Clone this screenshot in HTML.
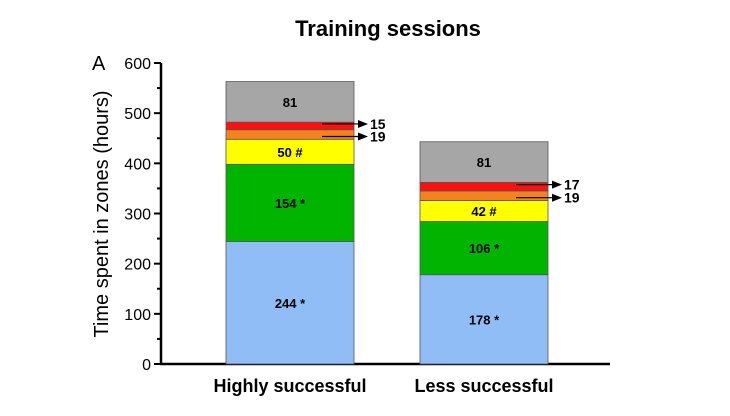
<!DOCTYPE html>
<html><head><meta charset="utf-8"><style>
body{margin:0;background:#fff;width:730px;height:411px;overflow:hidden;font-family:"Liberation Sans",sans-serif}
</style></head><body>
<svg width="730" height="411" xmlns="http://www.w3.org/2000/svg" font-family="Liberation Sans, sans-serif">
<text x="388" y="36" text-anchor="middle" font-size="22" font-weight="bold">Training sessions</text>
<text x="92" y="70" font-size="20">A</text>
<text transform="translate(108,214) rotate(-90)" text-anchor="middle" font-size="20">Time spent in zones (hours)</text>
<g id="axes"></g><g id="bars"></g>
</svg>
<script>
const categories=["Highly successful","Less successful"];
const zones=["blue","green","yellow","orange","red","gray"];
const hsValues=[244,154,50,19,15,81];
const lsValues=[178,106,42,19,17,81];
const labels=[["244 *","154 *","50 #","19","15","81"],["178 *","106 *","42 #","19","17","81"]];
const yTicks=[0,100,200,300,400,500,600];
const colors={blue:"#91bdf7",green:"#00b400",yellow:"#ffff00",orange:"#f58220",red:"#ff1010",gray:"#a6a6a6"};
const NS="http://www.w3.org/2000/svg";
const y0=364,yTop=63,yMax=600;
const y=v=>y0-(v/yMax)*(y0-yTop);
const barX=[226,420],barW=128;
function mk(tag,attrs,parent,txt){const e=document.createElementNS(NS,tag);for(const k in attrs)e.setAttribute(k,attrs[k]);if(txt!==undefined)e.textContent=txt;parent.appendChild(e);return e;}
const ax=document.getElementById('axes'),bg=document.getElementById('bars');
const yl=mk('line',{x1:161,y1:y(0),x2:161,y2:y(600),stroke:'#000','stroke-width':2.5},ax);


for(let v=0;v<=600;v+=50){const major=v%100===0;const t=mk('line',{x1:major?154:157,y1:y(v),x2:161,y2:y(v),stroke:'#000','stroke-width':2},ax);

}
yTicks.forEach(v=>{const t=mk('text',{x:151,y:y(v)+6,'text-anchor':'end','font-size':16},ax,String(v));

});
[hsValues,lsValues].forEach((vals,i)=>{let cum=0;const x=barX[i];
vals.forEach((v,j)=>{const top=y(cum+v),bot=y(cum);
const r=mk('rect',{x:x,y:top,width:barW,height:bot-top,fill:colors[zones[j]],stroke:'#555','stroke-width':0.8},bg);


const mid=(top+bot)/2;
if(j===3||j===4){
 const ty=mid+(j===4?-2:2);
 const l=mk('line',{x1:x+96,y1:ty,x2:x+134,y2:ty,stroke:'#000','stroke-width':1.2},bg);
 
 
 const p=mk('polygon',{points:`${x+132},${ty-4} ${x+142},${ty} ${x+132},${ty+4}`,fill:'#000'},bg);
 
 
 const t=mk('text',{x:x+144,y:ty+5,'font-size':14,'font-weight':'bold'},bg,labels[i][j]);
 
 
}else{
 const t=mk('text',{x:x+barW/2,y:mid+5,'text-anchor':'middle','font-size':13,'font-weight':'bold'},bg,labels[i][j]);
 
 
}
cum+=v;});
const c=mk('text',{x:x+barW/2,y:392,'text-anchor':'middle','font-size':18,'font-weight':'bold'},bg,categories[i]);


});
const xl=mk('line',{x1:160,y1:y0,x2:610,y2:y0,stroke:'#000','stroke-width':2.5},ax);


</script>
</body></html>
